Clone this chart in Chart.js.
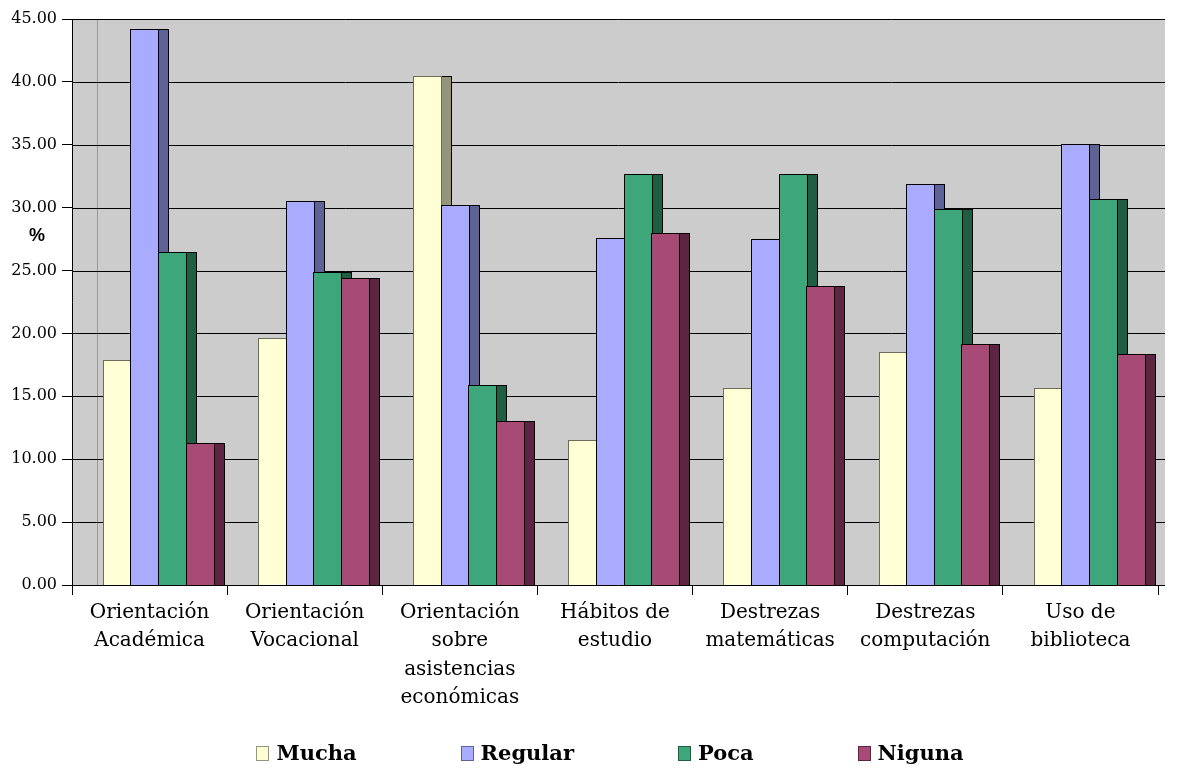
<!DOCTYPE html>
<html lang="es">
<head>
<meta charset="utf-8">
<title>Necesidad de orientación</title>
<script src="https://cdn.jsdelivr.net/npm/chart.js@4.4.1/dist/chart.umd.min.js"></script>
<style>
  html, body { margin: 0; padding: 0; background: #fff; }
  #wrap { width: 1177px; height: 768px; position: relative; }
</style>
</head>
<body>
<div id="wrap"><canvas id="chart"></canvas></div>
<script>
const categories = [
  ['Orientación', 'Académica'],
  ['Orientación', 'Vocacional'],
  ['Orientación', 'sobre', 'asistencias', 'económicas'],
  ['Hábitos de', 'estudio'],
  ['Destrezas', 'matemáticas'],
  ['Destrezas', 'computación'],
  ['Uso de', 'biblioteca'],
];
const seriesNames = ['Mucha', 'Regular', 'Poca', 'Niguna'];
const mucha = [17.9, 19.6, 40.5, 11.5, 15.7, 18.5, 15.7];
const regular = [44.2, 30.5, 30.2, 27.6, 27.5, 31.9, 35.1];
const poca = [26.5, 24.9, 15.9, 32.7, 32.7, 29.9, 30.7];
const niguna = [11.3, 24.4, 13.0, 28.0, 23.8, 19.2, 18.4];
const yMax = 45;
const yStep = 5;
const yTitle = '%';

const frontColors = ['#FFFFD6', '#A9ABFE', '#3DA77B', '#A84A76'];
const sideColors = ['#95957B', '#5F6294', '#1F5E43', '#5E2543'];
const edgeColors = ['#6B6B58', '#000000', '#000000', '#000000'];

// fake 3D: bars sit a little right of the ticks and get a dark side face
const DEPTH_SHIFT = 8.5;
const SIDE = 10;
const WALL_EXTRA = 7;

const serifFont = "'DejaVu Serif', 'Liberation Serif', serif";

const wallPlugin = {
  id: 'wall',
  beforeDraw(chart) {
    const { ctx, chartArea, scales } = chart;
    const right = chartArea.right + WALL_EXTRA;
    ctx.save();
    ctx.fillStyle = '#CCCCCC';
    ctx.fillRect(chartArea.left, chartArea.top, right - chartArea.left, chartArea.bottom - chartArea.top);

    ctx.strokeStyle = '#999999';
    ctx.lineWidth = 1;
    const wx = Math.round(chartArea.left + 25) + 0.5;
    ctx.beginPath();
    ctx.moveTo(wx, chartArea.top);
    ctx.lineTo(wx, chartArea.bottom);
    ctx.stroke();

    ctx.strokeStyle = '#000000';
    scales.y.ticks.forEach((t) => {
      if (t.value === 0) return;
      const y = Math.round(scales.y.getPixelForValue(t.value)) + 0.5;
      ctx.beginPath();
      ctx.moveTo(chartArea.left, y);
      ctx.lineTo(right, y);
      ctx.stroke();
    });
    ctx.restore();
  },
  beforeDatasetsDraw(chart) {
    const { ctx, chartArea } = chart;
    ctx.save();
    ctx.beginPath();
    ctx.rect(chartArea.left, chartArea.top - 1, chartArea.right + WALL_EXTRA - chartArea.left, chartArea.bottom - chartArea.top + 1);
    ctx.clip();
    ctx.lineWidth = 1;
    chart.data.datasets.forEach((ds, i) => {
      const meta = chart.getDatasetMeta(i);
      meta.data.forEach((bar) => {
        const left = Math.round(bar.x - bar.width / 2 + DEPTH_SHIFT) + 0.5;
        const w = Math.round(bar.width);
        const top = Math.round(bar.y) + 0.5;
        const h = Math.round(bar.base) - Math.round(bar.y);
        ctx.fillStyle = ds.sideColor;
        ctx.fillRect(left + w, top, SIDE, h);
        ctx.strokeStyle = '#000000';
        ctx.strokeRect(left + w, top, SIDE, h);
        ctx.fillStyle = ds.backgroundColor;
        ctx.fillRect(left, top, w, h);
        ctx.strokeStyle = ds.borderColor;
        ctx.strokeRect(left, top, w, h);
      });
    });
    ctx.restore();
    return false;
  },
  afterDraw(chart) {
    const { ctx, chartArea, scales } = chart;
    ctx.save();
    // x axis line across the floor
    ctx.strokeStyle = '#000000';
    ctx.lineWidth = 1;
    const by = Math.round(scales.y.getPixelForValue(0)) + 0.5;
    ctx.beginPath();
    ctx.moveTo(chartArea.left, by);
    ctx.lineTo(chartArea.right + WALL_EXTRA, by);
    ctx.stroke();

    // axis title, horizontal like the original
    ctx.fillStyle = '#000000';
    ctx.font = "bold 18px 'Liberation Sans', Arial, sans-serif";
    ctx.textAlign = 'center';
    ctx.textBaseline = 'middle';
    ctx.fillText(yTitle, chartArea.left - 35, chartArea.top + 217);

    // legend
    ctx.font = 'bold 21px ' + serifFont;
    ctx.textBaseline = 'alphabetic';
    ctx.textAlign = 'left';
    const boxW = 12, boxH = 14, gapText = 8, gapItem = 104;
    const widths = seriesNames.map((n) => boxW + gapText + ctx.measureText(n).width);
    const total = widths.reduce((a, b) => a + b, 0) + gapItem * (seriesNames.length - 1);
    let x = (chartArea.left + chartArea.right) / 2 - 5 - total / 2;
    const baseY = chart.height - 8;
    seriesNames.forEach((name, i) => {
      ctx.fillStyle = frontColors[i];
      ctx.fillRect(Math.round(x) + 0.5, baseY - boxH + 0.5, boxW, boxH);
      ctx.strokeStyle = sideColors[i];
      ctx.strokeRect(Math.round(x) + 0.5, baseY - boxH + 0.5, boxW, boxH);
      ctx.fillStyle = '#000000';
      ctx.fillText(name, x + boxW + gapText, baseY);
      x += widths[i] + gapItem;
    });
    ctx.restore();
  },
};

const seriesValues = [mucha, regular, poca, niguna];

new Chart(document.getElementById('chart'), {
  type: 'bar',
  data: {
    labels: categories,
    datasets: seriesNames.map((name, i) => ({
      label: name,
      data: seriesValues[i],
      backgroundColor: frontColors[i],
      borderColor: edgeColors[i],
      sideColor: sideColors[i],
      borderWidth: 1,
      barPercentage: 1,
      categoryPercentage: 0.712,
    })),
  },
  options: {
    responsive: true,
    maintainAspectRatio: false,
    animation: false,
    layout: { padding: { top: 19, right: 19, bottom: 0, left: 0 } },
    plugins: {
      legend: { display: false },
      tooltip: { enabled: false },
    },
    scales: {
      x: {
        grid: {
          offset: true,
          drawOnChartArea: false,
          tickLength: 10,
          color: '#000000',
        },
        border: { display: false },
        ticks: {
          color: '#000000',
          font: { family: serifFont, size: 20, lineHeight: 1.43 },
          padding: 3,
          maxRotation: 0,
          autoSkip: false,
        },
        afterFit(scale) { scale.height = 183; },
      },
      y: {
        min: 0,
        max: yMax,
        grid: {
          drawOnChartArea: false,
          tickLength: 10,
          color: '#000000',
        },
        border: { display: true, color: '#000000', width: 1 },
        ticks: {
          stepSize: yStep,
          color: '#000000',
          padding: 5,
          font: { family: serifFont, size: 16 },
          callback: (v) => Number(v).toFixed(2),
        },
        afterFit(scale) { scale.width = 72; },
      },
    },
  },
  plugins: [wallPlugin],
});
</script>
</body>
</html>
